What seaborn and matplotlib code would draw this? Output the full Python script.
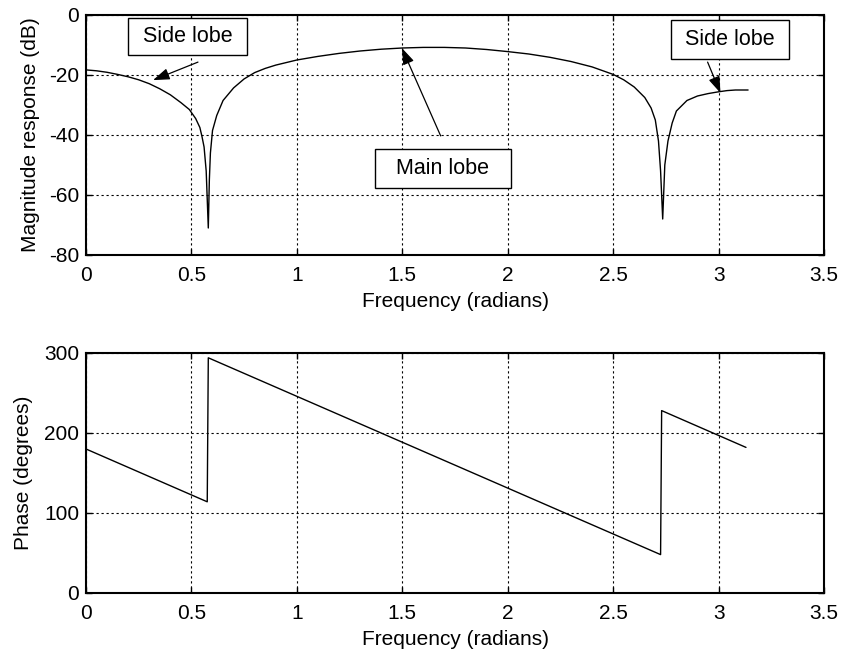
import numpy as np
import pandas as pd
import seaborn as sns
import matplotlib.pyplot as plt
from matplotlib.patches import Rectangle

# magnitude response
freq_mag = [0.0, 0.05, 0.10, 0.15, 0.20, 0.25, 0.30, 0.35, 0.40, 0.45, 0.49, 0.52,
            0.54, 0.55, 0.56, 0.57, 0.58, 0.585, 0.59, 0.60, 0.62, 0.65, 0.70, 0.75,
            0.80, 0.85, 0.90, 1.00, 1.10, 1.20, 1.30, 1.40, 1.50, 1.60, 1.70, 1.80,
            1.90, 2.00, 2.10, 2.20, 2.30, 2.40, 2.50, 2.55, 2.60, 2.65, 2.68, 2.70,
            2.715, 2.725, 2.735, 2.745, 2.76, 2.78, 2.80, 2.85, 2.90, 2.95, 3.00,
            3.04, 3.08, 3.14]
mag_db = [-18.3, -18.6, -19.1, -19.8, -20.6, -21.6, -22.9, -24.6, -26.6, -29.2, -31.5, -34.5,
          -37.5, -40.5, -44.0, -52.0, -71.0, -55.0, -46.0, -38.5, -33.5, -28.5, -24.3, -21.3,
          -19.2, -17.8, -16.7, -15.0, -13.8, -12.8, -12.0, -11.4, -11.0, -10.8, -10.8, -11.0,
          -11.5, -12.2, -13.0, -14.1, -15.5, -17.3, -19.8, -21.6, -24.0, -27.5, -31.0, -35.0,
          -42.0, -52.0, -68.0, -50.0, -42.0, -36.0, -32.0, -28.5, -27.0, -26.2, -25.6,
          -25.2, -25.0, -25.0]

# phase response
freq_ph = [0.0, 0.575, 0.58, 2.725, 2.73, 3.13]
phase_deg = [180, 114, 294, 48, 228, 182]

df_mag = pd.DataFrame({"w": freq_mag, "db": mag_db})
df_ph = pd.DataFrame({"w": freq_ph, "ph": phase_deg})

sns.set_style("white")
plt.rcParams["font.family"] = ["Liberation Sans", "DejaVu Sans"]
plt.rcParams["axes.unicode_minus"] = False
plt.rcParams["text.color"] = "black"
plt.rcParams["axes.labelcolor"] = "black"

fig = plt.figure(figsize=(8.41, 6.54), dpi=100)
ax1 = fig.add_axes([86 / 841, 1 - 255 / 654, 738 / 841, 240 / 654])
ax2 = fig.add_axes([86 / 841, 1 - 593 / 654, 738 / 841, 240 / 654])

sns.lineplot(data=df_mag, x="w", y="db", ax=ax1, color="black", lw=1,
             estimator=None, sort=False)
sns.lineplot(data=df_ph, x="w", y="ph", ax=ax2, color="black", lw=1,
             estimator=None, sort=False)

for ax in (ax1, ax2):
    ax.set_xlim(0, 3.5)
    ax.set_xticks(np.arange(0, 3.6, 0.5))
    ax.set_xticklabels(["0", "0.5", "1", "1.5", "2", "2.5", "3", "3.5"])
    ax.grid(True, color="black", linestyle=(0, (2, 2.5)), lw=0.8)
    ax.tick_params(direction="in", length=4, width=1, labelsize=15, colors="black",
                   top=True, right=True, bottom=True, left=True, pad=5)
    ax.tick_params(axis="x", pad=8)
    for sp in ax.spines.values():
        sp.set_color("black")
        sp.set_linewidth(1.5)
    ax.set_xlabel("Frequency (radians)", fontsize=15, labelpad=5)

ax1.set_ylim(-80, 0)
ax1.set_yticks([-80, -60, -40, -20, 0])
ax1.set_ylabel("Magnitude response (dB)", fontsize=15, labelpad=6)
ax2.set_ylim(0, 300)
ax2.set_yticks([0, 100, 200, 300])
ax2.set_ylabel("Phase (degrees)", fontsize=15, labelpad=8)

arrow = dict(arrowstyle="-|>,head_length=1.0,head_width=0.35", color="black", lw=0.9,
             shrinkA=0, shrinkB=0)


def label_box(ax, x0, x1, y0, y1, text):
    ax.add_patch(Rectangle((x0, y1), x1 - x0, y0 - y1, fc="white", ec="black",
                           lw=1, zorder=4))
    ax.text((x0 + x1) / 2, (y0 + y1) / 2, text, ha="center", va="center",
            fontsize=15.5, color="black", zorder=5)


ax1.annotate("", xy=(0.318, -21.7), xytext=(0.531, -15.7), arrowprops=arrow)
label_box(ax1, 0.199, 0.763, -1.0, -13.3, "Side lobe")

ax1.annotate("", xy=(1.498, -11.0), xytext=(1.682, -40.3), arrowprops=arrow)
label_box(ax1, 1.370, 2.014, -44.7, -57.7, "Main lobe")

ax1.annotate("", xy=(3.009, -26.0), xytext=(2.948, -15.7), arrowprops=arrow)
label_box(ax1, 2.773, 3.336, -1.7, -14.7, "Side lobe")

plt.savefig("out.png", dpi=100)
plt.close()
